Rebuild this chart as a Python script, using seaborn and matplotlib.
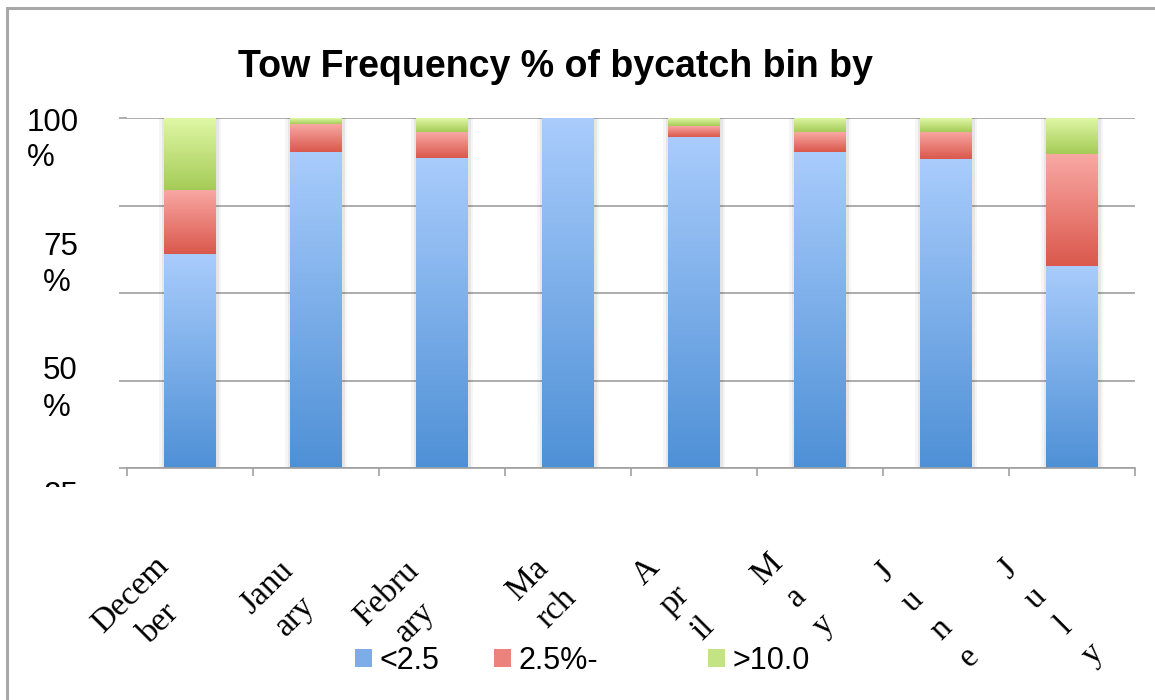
"""
Tow frequency % of bycatch bin by month - stacked bar chart
"""

import numpy as np
import pandas as pd
import matplotlib
matplotlib.use("Agg")
import matplotlib.pyplot as plt
import matplotlib.patheffects as pe
from matplotlib import transforms
from matplotlib.colors import LinearSegmentedColormap
from matplotlib.patches import Patch, Rectangle
import seaborn as sns

# ─── Data ──────────────────────────────────────────────────────────────────────
months = ["December", "January", "February", "March", "April", "May", "June", "July"]
month_labels = ["Decem\nber", "Janu\nary", "Febru\nary", "Ma\nrch",
                "A\npr\nil", "M\na\ny", "J\nu\nn\ne", "J\nu\nl\ny"]
low_pct = [61.1, 90.4, 88.7, 100.0, 94.7, 90.2, 88.2, 57.8]    # <2.5
mid_pct = [18.3, 7.9, 7.4, 0.0, 3.1, 5.7, 7.8, 31.9]           # 2.5%-
high_pct = [20.6, 1.7, 3.9, 0.0, 2.2, 4.1, 4.0, 10.3]          # >10.0
bin_names = ["<2.5", "2.5%-", ">10.0"]
y_ticks = [0, 25, 50, 75, 100]
y_tick_text = ["100", "75", "50", "25"]
title = "Tow Frequency % of bycatch bin by"

# ─── Style ─────────────────────────────────────────────────────────────────────
W, H, DPI = 1155, 700, 100
GRID = '#a0a0a0'
# (top, bottom) of each gradient, plus a flat colour for the legend
BLUE = ('#a9ccfc', '#4e90d6', '#7cade9')
RED = ('#f9a8a4', '#da584c', '#ec827b')
GREEN = ('#e0f8a6', '#a5cb57', '#c4e384')

sns.set_style("white")
plt.rcParams['font.family'] = ['Liberation Sans', 'DejaVu Sans']
plt.rcParams['text.color'] = 'black'

df = pd.DataFrame({"month": months, "low": low_pct, "mid": mid_pct, "high": high_pct})
df["cum_mid"] = df["low"] + df["mid"]
df["cum_high"] = df["cum_mid"] + df["high"]
df["zero"] = 0.0

fig = plt.figure(figsize=(W / DPI, H / DPI), dpi=DPI)
ax = fig.add_axes([127 / W, 1 - 468 / H, 1008 / W, 350 / H])

# draw the cumulative totals back to front, then paint each segment with a gradient
layers = [("cum_high", "cum_mid", GREEN), ("cum_mid", "low", RED), ("low", "zero", BLUE)]
grad = np.linspace(0, 1, 256).reshape(-1, 1)
for k, (top_col, bot_col, (c_top, c_bot, c_flat)) in enumerate(layers):
    n0 = len(ax.patches)
    sns.barplot(data=df, x="month", y=top_col, order=months, color=c_flat,
                saturation=1, width=0.405, errorbar=None, linewidth=0, ax=ax)
    cmap = LinearSegmentedColormap.from_list(f"g{k}", [c_bot, c_top])
    for p, top, bot in zip(ax.patches[n0:], df[top_col], df[bot_col]):
        if k == 0:
            p.set_path_effects([pe.Stroke(linewidth=7, foreground='black', alpha=0.04),
                                pe.Stroke(linewidth=3.5, foreground='black', alpha=0.06),
                                pe.Normal()])
        if top - bot <= 0:
            continue
        x0, w = p.get_x(), p.get_width()
        im = ax.imshow(grad, extent=(x0, x0 + w, bot, top), origin='lower',
                       aspect='auto', cmap=cmap, zorder=2, interpolation='bilinear')
        im.set_clip_path(p)

ax.set_xlim(-0.5, len(months) - 0.5)
ax.set_ylim(0, 100)
ax.set_xlabel("")
ax.set_ylabel("")

ax.set_yticks(y_ticks)
ax.set_yticklabels([])
ax.yaxis.grid(True, color=GRID, lw=1.2)
ax.set_axisbelow(True)
for s in ['top', 'right', 'left']:
    ax.spines[s].set_visible(False)
ax.spines['bottom'].set_color(GRID)
ax.spines['bottom'].set_linewidth(1.2)
ax.tick_params(axis='y', left=True, length=6, color=GRID, width=1.2)

ax.set_xticks(range(len(months)))
ax.set_xticklabels([])
ax.tick_params(axis='x', which='major', length=0)
ax.set_xticks(np.arange(-0.5, len(months), 1), minor=True)
ax.tick_params(axis='x', which='minor', bottom=True, length=6, color=GRID, width=1.2)

# ─── Text ──────────────────────────────────────────────────────────────────────
fig.text(555 / W, 1 - 77 / H, title, ha='center', va='baseline',
         fontsize=27, fontweight='bold', color='black')

# y labels sit apart from the gridlines, as in the original chart
ylab_pos = [(27, 131, 166), (43, 255, 291), (43, 379, 416), (43, 504, None)]
clip = transforms.TransformedBbox(
    transforms.Bbox([[0, 1 - 487 / H], [1, 1]]), fig.transFigure)
for txt, (xp, yb1, yb2) in zip(y_tick_text, ylab_pos):
    t = fig.text(xp / W, 1 - yb1 / H, txt, ha='left', va='baseline', fontsize=22.5,
                 color='black')
    t.set_clip_box(clip)
    t.set_clip_on(True)
    if yb2 is not None:
        fig.text(xp / W, 1 - yb2 / H, "%", ha='left', va='baseline', fontsize=22.5,
                 color='black')

# rotated, wrapped month labels
lbl_dx = [-45, -35, -41, -26, -19, -24, -19, -22]
lbl_y = [609, 602, 608, 594, 600, 597, 615, 612]
base = transforms.blended_transform_factory(ax.transData, fig.transFigure)
for i, (lab, dx, yp) in enumerate(zip(month_labels, lbl_dx, lbl_y)):
    tr = base + transforms.ScaledTranslation(dx / DPI, 0, fig.dpi_scale_trans)
    ax.text(i, 1 - yp / H, lab, transform=tr, rotation=45, rotation_mode='anchor',
            ha='center', va='center', multialignment='center', fontsize=24,
            family=['Liberation Serif', 'DejaVu Serif'], linespacing=1.4,
            color='black', clip_on=False)

# legend: one entry per box, spaced like the original
leg_x = [355, 494, 708]
for name, colors, xp in zip(bin_names, [BLUE, RED, GREEN], leg_x):
    fig.legend(handles=[Patch(facecolor=colors[2], edgecolor='none', label=name)],
               loc='center left', bbox_to_anchor=(xp / W, 1 - 661 / H),
               frameon=False, fontsize=22, handlelength=0.56, handleheight=0.5,
               handletextpad=0.25, borderpad=0, borderaxespad=0, labelcolor='black')

# outer chart frame (runs off the right and bottom edges)
fig.add_artist(Rectangle((6.5 / W, -0.5), 2, 1.5 - 7.5 / H, transform=fig.transFigure,
                         fill=False, ec='#a8a8a8', lw=2.2))

fig.savefig("out.png", dpi=DPI)
